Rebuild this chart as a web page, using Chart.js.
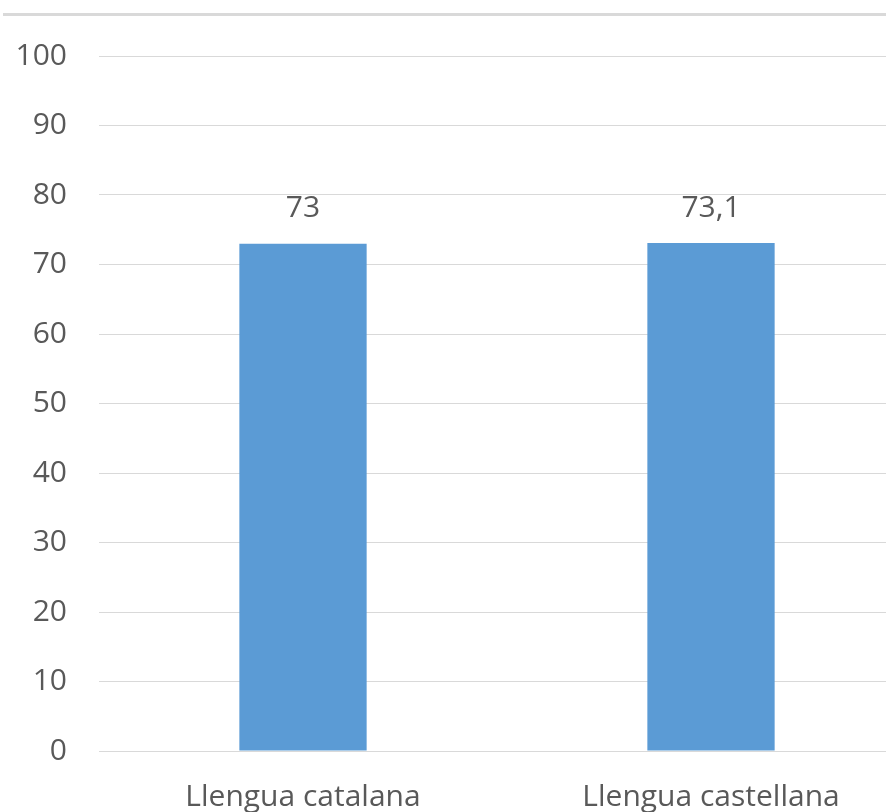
<!DOCTYPE html>
<html>
<head>
<meta charset="utf-8">
<script src="https://cdn.jsdelivr.net/npm/chart.js@4"></script>
<style>
  html, body { margin: 0; padding: 0; background: #fff; overflow: hidden; width: 886px; height: 812px; }
  #wrap { position: absolute; left: 0; top: 0; width: 915px; height: 812px; }
</style>
</head>
<body>
<div id="wrap"><canvas id="c"></canvas></div>
<script>
const categories = ['Llengua catalana', 'Llengua castellana'];
const values = [73, 73.1];
const yTicks = [0, 10, 20, 30, 40, 50, 60, 70, 80, 90, 100];

const FONT = "'Open Sans', 'Noto Sans', sans-serif";
const TEXT = '#595959';
const GRID = '#d9d9d9';

const topRule = {
  id: 'topRule',
  beforeDraw(chart) {
    const ctx = chart.ctx;
    ctx.save();
    ctx.fillStyle = GRID;
    ctx.fillRect(3, 13, chart.width, 3);
    ctx.restore();
  }
};

const valueLabels = {
  id: 'valueLabels',
  afterDatasetsDraw(chart) {
    const ctx = chart.ctx;
    const meta = chart.getDatasetMeta(0);
    ctx.save();
    ctx.font = '30px ' + FONT;
    ctx.fillStyle = TEXT;
    ctx.textAlign = 'center';
    ctx.textBaseline = 'middle';
    meta.data.forEach((bar, i) => {
      const txt = String(values[i]).replace('.', ',');
      ctx.fillText(txt, bar.x, bar.y - 35);
    });
    ctx.restore();
  }
};

new Chart(document.getElementById('c'), {
  type: 'bar',
  data: {
    labels: categories,
    datasets: [{
      data: values,
      backgroundColor: '#5b9bd5',
      borderWidth: 0,
      categoryPercentage: 1,
      barPercentage: 0.312
    }]
  },
  options: {
    responsive: true,
    maintainAspectRatio: false,
    animation: false,
    layout: { padding: { top: 56, right: 0, bottom: 0, left: 0 } },
    plugins: { legend: { display: false }, tooltip: { enabled: false } },
    scales: {
      x: {
        grid: { display: false, drawTicks: false },
        border: { display: false },
        ticks: { color: TEXT, font: { family: FONT, size: 30 }, padding: 28, maxRotation: 0 },
        afterFit(s) { s.height = 61; }
      },
      y: {
        min: 0, max: 100,
        afterBuildTicks(s) { s.ticks = yTicks.map(v => ({ value: v })); },
        grid: { color: GRID, lineWidth: 1, drawTicks: false },
        border: { display: false },
        ticks: { color: TEXT, font: { family: FONT, size: 30 }, padding: 32 },
        afterFit(s) { s.width = 99; }
      }
    }
  },
  plugins: [topRule, valueLabels]
});
</script>
</body>
</html>
